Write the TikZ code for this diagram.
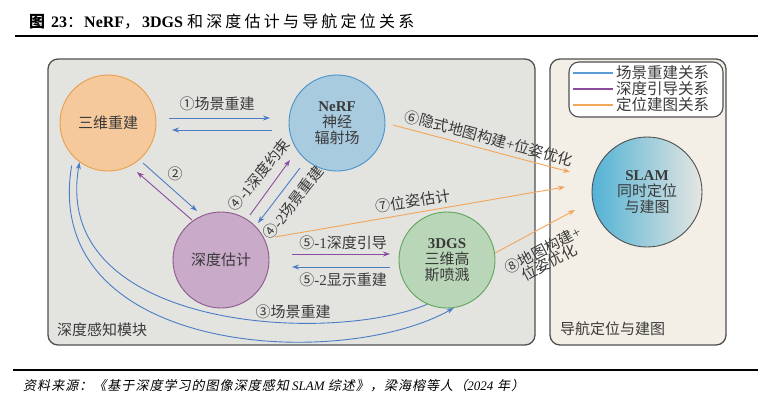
\documentclass[tikz,border=0pt]{standalone}
\usepackage{fontspec}
\setmainfont{Liberation Serif}
\newfontfamily\zhfont{Noto Sans CJK SC}
\newfontfamily\zhit{Noto Sans CJK SC}[FakeSlant=0.2,LetterSpace=8]
\newcommand\zh[1]{{\zhfont #1}}
\newcommand\setfs[1]{\fontsize{#1}{#1}\selectfont}
\newcommand\tsp{\hspace{3.2pt}}
\usetikzlibrary{calc,arrows.meta}
\definecolor{panelL}{HTML}{E3E3DF}
\definecolor{panelR}{HTML}{F3EFE6}
\definecolor{panelB}{HTML}{505050}
\definecolor{cblue}{HTML}{4A7DC6}
\definecolor{lgblue}{HTML}{5B9BD5}
\definecolor{cpurp}{HTML}{8A4C9E}
\definecolor{corng}{HTML}{F2A65A}
\definecolor{txt}{HTML}{3A3A3A}
\definecolor{orF}{HTML}{F6C99C}\definecolor{orB}{HTML}{E8A04C}
\definecolor{blF}{HTML}{A9CBDF}\definecolor{blB}{HTML}{4B93C8}
\definecolor{puF}{HTML}{C9AAC9}\definecolor{puB}{HTML}{8C5A8C}
\definecolor{grF}{HTML}{BAD6B8}\definecolor{grB}{HTML}{5FA55A}
\definecolor{slL}{HTML}{52B3D5}\definecolor{slR}{HTML}{E6E6E2}
\begin{document}
\begin{tikzpicture}[x=1pt,y=-1pt,
  circ/.style={circle,minimum size=96pt,inner sep=0pt,line width=0.9pt,align=center,text=txt,font=\setfs{15}},
  panel/.style={draw=panelB,line width=1.3pt,rounded corners=10pt,inner sep=0pt},
  arr/.style={-{Stealth[length=7pt,width=5pt]},line width=0.9pt},
  lab/.style={text=txt,font=\setfs{15},inner sep=1pt,align=center},
  legline/.style={line width=1.4pt},
]
\useasboundingbox (0,0) rectangle (765,402);
\fill[white] (0,0) rectangle (765,402);

% title and rules
\node[anchor=west,inner sep=0pt,text=black] (title) at (29,22)
  {\setfs{16}{\zhfont\bfseries 图}\hspace{6pt}{\rmfamily\bfseries 23}{\zhfont ：}\hspace{1pt}{\rmfamily\bfseries NeRF}{\zhfont ，}\hspace{2pt}{\rmfamily\bfseries 3DGS}\hspace{4pt}{\zhfont 和\tsp 深\tsp 度\tsp 估\tsp 计\tsp 与\tsp 导\tsp 航\tsp 定\tsp 位\tsp 关\tsp 系}};
\draw[line width=2pt] (15,36) coordinate (tl) -- (758,36) coordinate (tr);
\draw[line width=2pt] (13,370) coordinate (bl) -- (758,370) coordinate (br);
\node[anchor=west,inner sep=0pt,text=black] (src) at (23,386)
  {\setfs{13}\zhit 资料来源：《基于深度学习的图像深度感知{\rmfamily\itshape\ SLAM }综述》，梁海榕等人（{\rmfamily\itshape 2024} 年）};

% panels
\node[panel,fill=panelL,minimum width=487pt,minimum height=286pt] (pl) at (291.5,202) {};
\node[panel,fill=panelR,minimum width=176pt,minimum height=286pt] (pr) at (638,202) {};
\node[panel,fill=white,line width=1.1pt,minimum width=154pt,minimum height=55pt] (leg) at (646,89.5) {};

% legend
\coordinate (l1a) at (573,73); \coordinate (l1b) at (613,73);
\coordinate (l2a) at (573,89); \coordinate (l2b) at (613,89);
\coordinate (l3a) at (573,105); \coordinate (l3b) at (613,105);
\draw[legline,draw=lgblue] (l1a) -- (l1b);
\draw[legline,draw=cpurp] (l2a) -- (l2b);
\draw[legline,draw=corng] (l3a) -- (l3b);
\node[anchor=west,inner sep=0pt,text=txt,font=\setfs{15.5}\zhfont] (lt1) at (616,73) {场景重建关系};
\node[anchor=west,inner sep=0pt,text=txt,font=\setfs{15.5}\zhfont] (lt2) at (616,89) {深度引导关系};
\node[anchor=west,inner sep=0pt,text=txt,font=\setfs{15.5}\zhfont] (lt3) at (616,105) {定位建图关系};

% panel labels
\node[anchor=west,inner sep=0pt,text=txt,font=\setfs{15}\zhfont] (pll) at (57,330) {深度感知模块};
\node[anchor=west,inner sep=0pt,text=txt,font=\setfs{15}\zhfont] (prl) at (560,329) {导航定位与建图};

% circles
\node[circ,draw=orB,fill=orF] (rec) at (108,123) {\zh{三维重建}};
\node[circ,draw=blB,fill=blF] (nerf) at (337,123) {\textbf{NeRF}\\[1pt] \zh{神经}\\[1pt] \zh{辐射场}};
\node[circ,draw=puB,fill=puF] (dep) at (221,260) {\zh{深度估计}};
\node[circ,draw=grB,fill=grF] (dgs) at (447,260) {\textbf{3DGS}\\[1pt] \zh{三维高}\\[1pt] \zh{斯喷溅}};
\node[circ,minimum size=110pt,draw=panelB,left color=slL,right color=slR] (slam) at (647,192) {\textbf{SLAM}\\[1pt] \zh{同时定位}\\[1pt] \zh{与建图}};

% 1
\draw[arr,cblue] ($(rec)+(61,-5)$) -- ($(nerf)+(-67,-5)$);
\draw[arr,cblue] ($(nerf)+(-65,7)$) -- ($(rec)+(64,7)$);
\node[lab] (t1) at (217,104) {\zh{①场景重建}};
% 2
\draw[arr,cblue] ($(rec)+(35,40)$) -- ($(dep)+(-24,-49)$);
\draw[arr,cpurp] ($(dep)+(-29,-40)$) -- ($(rec)+(29,49)$);
\node[lab] (t2) at (175,174) {\zh{②}};
% 4
\draw[arr,cpurp] ($(dep)+(29,-45)$) -- ($(nerf)+(-47,37)$);
\draw[arr,cblue] ($(nerf)+(-37,45)$) -- ($(dep)+(37,-37)$);
\node[lab,rotate=51] (t41) at (259,175) {\zh{④}-1\zh{深度约束}};
\node[lab,rotate=52] (t42) at (293,203) {\zh{④}-2\zh{场景重建}};
% 5
\draw[arr,cpurp] ($(dep)+(71,-6)$) -- ($(dgs)+(-57,-6)$);
\draw[arr,cblue] ($(dgs)+(-57,7)$) -- ($(dep)+(71,7)$);
\node[lab] (t51) at (343,243) {\zh{⑤}-1\zh{深度引导}};
\node[lab] (t52) at (343,280) {\zh{⑤}-2\zh{显示重建}};
% 3
\draw[arr,cblue] (dgs.246) .. controls (330,345) and (50,330) .. (rec.234);
\draw[arr,cblue,shorten <=9pt] (rec.224) .. controls (40,355) and (340,372) .. (dgs.278);
\node[lab] (t3) at (293,312) {\zh{③场景重建}};
% 6,7,8
\draw[arr,corng] ($(nerf)+(56,2)$) -- ($(slam)+(-77,-20)$);
\node[lab,rotate=-15] (t6) at (489,138) {\zh{⑥隐式地图构建}+\zh{位姿优化}};
\draw[arr,corng] ($(dep)+(54,-23)$) -- ($(slam)+(-82,-5)$);
\node[lab,rotate=9] (t7) at (413,201) {\zh{⑦位姿估计}};
\draw[arr,corng] ($(dgs)+(48,-7)$) -- ($(slam)+(-72,18)$);
\node[lab,rotate=28] (t8) at (546,256) {\zh{⑧地图构建}+\\[-1pt] \zh{位姿优化}};
\end{tikzpicture}
\end{document}
